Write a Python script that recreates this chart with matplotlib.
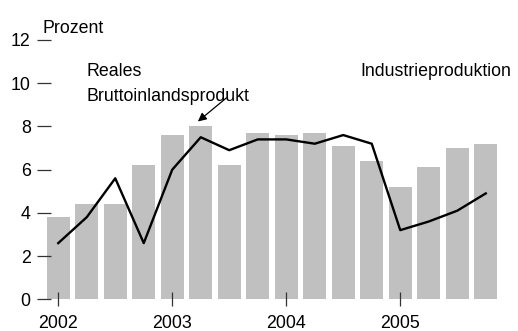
import matplotlib
matplotlib.use("Agg")
import matplotlib.pyplot as plt

plt.rcParams['font.family'] = ['Liberation Sans', 'DejaVu Sans']

# Quarterly growth rates, 2002 Q1 to 2005 Q4 (percent)
quarters = list(range(16))
industrieproduktion = [3.8, 4.4, 4.4, 6.2,
                       7.6, 8.0, 6.2, 7.7,
                       7.6, 7.7, 7.1, 6.4,
                       5.2, 6.1, 7.0, 7.2]
bip = [2.6, 3.8, 5.6, 2.6,
       6.0, 7.5, 6.9, 7.4,
       7.4, 7.2, 7.6, 7.2,
       3.2, 3.6, 4.1, 4.9]
year_ticks = [0, 4, 8, 12]
year_labels = ["2002", "2003", "2004", "2005"]
y_ticks = [0, 2, 4, 6, 8, 10, 12]

W, H = 518, 331
fig = plt.figure(figsize=(W / 100, H / 100), dpi=100)
left, right, top, bottom = 44, 500, 40, 299.3
ax = fig.add_axes([left / W, 1 - bottom / H, (right - left) / W, (bottom - top) / H])

fs = 12.8
ax.bar(quarters, industrieproduktion, width=0.8, color="#c0c0c0", zorder=1)
ax.plot(quarters, bip, color="black", linewidth=1.7, zorder=3)

ax.set_xlim(-0.5, 15.5)
ax.set_ylim(0, 12)
for s in ax.spines.values():
    s.set_visible(False)

ax.set_yticks(y_ticks)
ax.set_yticklabels([str(v) for v in y_ticks])
ax.set_xticks(year_ticks)
ax.set_xticklabels(year_labels)
ax.tick_params(axis="y", direction="inout", length=10.2, width=0.9,
               color="#333333", pad=4.5, labelsize=fs)
ax.tick_params(axis="x", direction="inout", length=9.5, width=0.9,
               color="#333333", pad=6.2, labelsize=fs)
for t in ax.xaxis.get_major_ticks():
    t.tick1line.set_zorder(4)

ax.text(-0.56, 12.33, "Prozent", fontsize=fs, ha="left", va="baseline", clip_on=False)
ax.text(1.0, 10.35, "Reales", fontsize=fs, ha="left", va="baseline")
ax.text(1.0, 9.19, "Bruttoinlandsprodukt", fontsize=fs, ha="left", va="baseline")
ax.text(10.6, 10.35, "Industrieproduktion", fontsize=fs, ha="left", va="baseline")

ax.annotate("", xy=(4.9, 8.23), xytext=(5.9, 9.32),
            arrowprops=dict(arrowstyle="-|>,head_length=0.5,head_width=0.25",
                            color="black", lw=0.9, shrinkA=0, shrinkB=0))

fig.savefig("out.png", dpi=100)
